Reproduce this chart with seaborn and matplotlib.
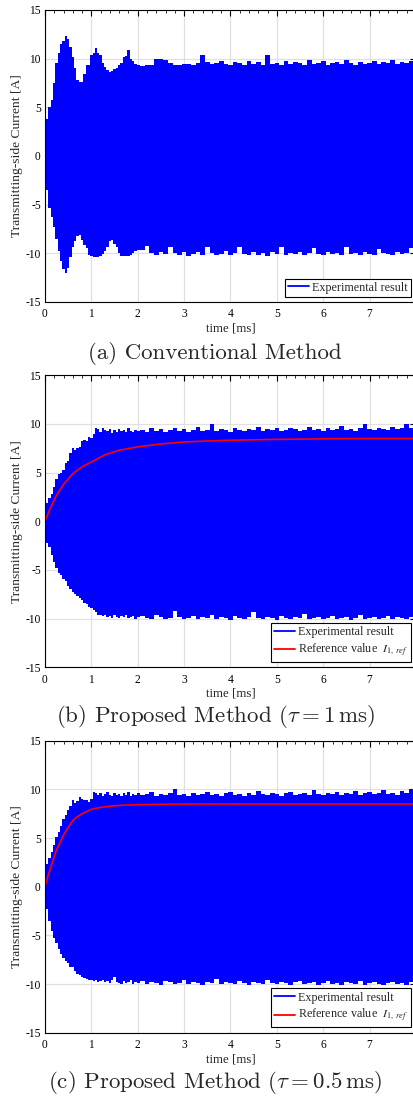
import numpy as np
import matplotlib
matplotlib.use("Agg")
import matplotlib.pyplot as plt
import seaborn as sns
from matplotlib.lines import Line2D
from matplotlib.font_manager import FontProperties

# sample times of the read envelopes [ms]
t_env = np.round(np.r_[np.arange(0, 2.0001, 0.05), np.arange(2.1, 8.0001, 0.1)], 2)

# (a) conventional method, envelope of the measured current [A]
a_upper = [0.0, 3.8, 5.0, 5.8, 7.5, 9.6, 10.6, 11.5, 11.8, 12.3, 12.0, 11.2, 10.2, 9.0, 7.8, 7.6, 7.6, 8.4,
           9.3, 9.4, 10.4, 10.6, 11.1, 10.6, 10.4, 9.6, 9.1, 8.8, 8.6, 8.7, 8.9, 9.0, 9.4, 9.6, 10.2, 10.3,
           10.9, 10.0, 9.8, 9.5, 9.3,
           9.2, 9.3, 9.4, 10.0, 10.0, 9.9, 9.6, 9.3, 9.3, 9.5, 9.5, 9.3, 9.6, 10.4, 9.7, 9.5, 9.6, 9.8, 9.5, 9.4,
           9.7, 9.6, 9.4, 9.8, 9.5, 9.7, 9.4, 10.4, 9.5, 9.6, 9.4, 9.8, 9.5, 9.7, 9.6, 9.4, 9.9, 9.5, 9.6, 9.8,
           9.4, 9.6, 9.7, 9.5, 9.9, 9.6, 9.4, 9.7, 9.5, 9.6, 9.8, 9.5, 9.7, 9.6, 9.9, 9.5, 9.7, 9.6, 9.8, 9.7]
a_lower = [0.0, -3.5, -5.3, -6.3, -7.3, -8.5, -9.8, -10.8, -11.6, -12.0, -11.5, -10.4, -9.4, -8.7, -8.2, -8.1,
           -8.6, -9.1, -9.5, -10.2, -10.3, -10.4, -10.4, -10.4, -10.3, -10.1, -9.8, -9.3, -8.7, -8.6, -9.0,
           -9.4, -10.0, -10.3, -10.3, -10.3, -10.3, -10.2, -10.0, -9.8, -9.7,
           -9.7, -9.2, -10.0, -10.2, -9.9, -10.1, -9.3, -10.0, -10.2, -9.9, -10.3, -10.1, -9.9, -10.2, -9.4,
           -10.0, -10.2, -10.1, -9.8, -10.2, -10.0, -9.3, -10.1, -10.2, -9.9, -10.2, -10.0, -10.3, -9.9, -10.1,
           -9.4, -10.2, -10.0, -10.1, -9.9, -10.2, -10.0, -9.5, -10.1, -10.2, -9.9, -10.1, -10.0, -10.2, -9.3,
           -10.1, -10.0, -10.2, -9.9, -10.1, -10.2, -9.6, -10.0, -10.1, -10.2, -9.9, -10.1, -10.0, -9.5, -10.1]

# (b) proposed method, tau = 1 ms
b_upper = [0.0, 1.9, 2.4, 2.8, 3.5, 4.3, 4.9, 5.0, 5.3, 6.0, 6.2, 7.0, 7.5, 7.3, 7.5, 7.6, 8.3, 8.4, 8.2,
           8.7, 8.6, 9.0, 9.6, 9.5, 9.2, 9.6, 9.4, 9.3, 9.5, 9.1, 9.4, 9.2, 9.5, 9.3, 9.4, 9.2, 9.6, 9.3, 9.2,
           9.4, 9.3,
           9.4, 9.2, 9.6, 9.3, 9.5, 9.2, 9.4, 9.6, 9.3, 9.5, 9.2, 9.4, 9.7, 9.3, 9.4, 10.0, 9.3, 9.5, 9.4, 9.2,
           9.6, 9.4, 9.3, 9.5, 9.4, 9.7, 9.3, 9.5, 9.4, 9.6, 9.3, 9.4, 9.6, 9.5, 9.3, 9.4, 9.7, 9.4, 9.5, 9.3,
           9.6, 9.4, 9.5, 9.8, 9.4, 9.5, 9.3, 9.6, 10.0, 9.5, 9.4, 9.6, 9.5, 9.4, 9.7, 9.5, 9.6, 10.0, 9.6, 9.5]
b_lower = [0.0, -2.2, -2.6, -3.5, -4.2, -4.8, -5.3, -5.5, -5.9, -6.1, -6.6, -7.0, -7.3, -7.5, -7.7, -7.9,
           -8.1, -8.4, -8.5, -8.8, -8.95, -9.1, -9.3, -9.6, -9.6, -9.7, -9.6, -9.8, -9.7, -9.9, -9.6, -9.8,
           -9.9, -9.7, -9.8, -9.6, -9.9, -9.8, -9.7, -10.0, -9.8,
           -9.7, -9.9, -10.0, -9.6, -9.8, -10.0, -9.9, -9.2, -9.8, -10.0, -9.9, -9.7, -10.0, -9.8, -9.9, -9.6,
           -10.0, -9.8, -9.9, -10.1, -9.7, -9.9, -10.0, -9.8, -9.3, -9.9, -10.0, -9.8, -9.9, -10.1, -9.7, -9.9,
           -10.0, -9.8, -9.9, -9.5, -10.0, -9.9, -9.8, -10.0, -9.9, -9.7, -10.0, -9.9, -9.8, -10.1, -9.9, -9.6,
           -10.0, -9.9, -9.8, -10.0, -9.9, -9.7, -10.0, -9.8, -9.9, -10.0, -9.8, -9.9]

# (c) proposed method, tau = 0.5 ms
c_upper = [0.0, 2.3, 3.0, 3.6, 4.3, 5.1, 5.6, 6.2, 7.0, 7.4, 7.9, 8.3, 8.9, 8.6, 8.8, 9.2, 9.0, 8.9, 8.9,
           8.7, 9.0, 9.7, 9.6, 9.4, 9.6, 9.3, 9.5, 9.7, 9.4, 9.3, 9.6, 9.4, 9.5, 9.3, 9.6, 9.4, 9.7, 9.3, 9.5,
           9.4, 9.6,
           9.4, 9.5, 9.7, 9.3, 9.5, 9.4, 9.6, 10.0, 9.4, 9.5, 9.3, 9.6, 9.4, 9.5, 9.7, 9.4, 9.5, 9.3, 9.6, 9.7,
           9.4, 9.5, 9.3, 9.6, 9.4, 9.8, 9.5, 9.4, 9.6, 9.5, 9.3, 9.6, 9.7, 9.4, 9.5, 9.6, 9.4, 9.9, 9.5, 9.4,
           9.6, 9.5, 9.7, 9.4, 9.6, 9.5, 9.8, 9.4, 9.6, 9.7, 9.5, 9.6, 9.9, 9.5, 9.6, 9.4, 9.8, 9.6, 10.0, 9.7]
c_lower = [0.0, -2.3, -3.5, -4.5, -5.3, -5.8, -6.4, -6.9, -7.3, -7.6, -7.8, -8.2, -8.3, -8.7, -9.0, -9.1,
           -9.3, -9.4, -9.5, -9.6, -9.6, -9.7, -9.6, -9.8, -9.7, -9.6, -9.8, -9.7, -9.9, -9.6, -9.3, -9.8,
           -9.9, -10.0, -9.7, -9.9, -9.8, -9.6, -10.0, -9.8, -9.9,
           -9.7, -10.0, -9.8, -9.9, -10.1, -9.7, -9.8, -10.0, -9.9, -9.6, -10.0, -9.8, -9.9, -10.1, -9.8, -9.9,
           -9.5, -10.0, -9.8, -9.9, -10.0, -9.7, -9.9, -10.1, -9.8, -9.9, -10.0, -9.6, -9.9, -10.0, -9.8, -9.9,
           -10.1, -9.8, -9.7, -10.0, -9.9, -9.8, -10.1, -9.9, -9.7, -10.0, -9.9, -10.1, -9.8, -9.9, -10.0, -9.7,
           -10.1, -9.9, -9.8, -10.0, -10.1, -9.9, -9.8, -10.0, -9.9, -10.1, -9.8, -10.0]

# reference current I_1,ref [A]
b_ref_t = [0, 0.1, 0.25, 0.4, 0.6, 0.8, 1.0, 1.3, 1.6, 2.0, 2.5, 3.0, 3.5, 4.0, 5.0, 6.0, 7.0, 8.0]
b_ref_v = [0, 1.2, 2.7, 3.8, 4.9, 5.6, 6.1, 6.85, 7.3, 7.65, 7.95, 8.15, 8.25, 8.33, 8.42, 8.47, 8.5, 8.5]
c_ref_t = [0, 0.05, 0.1, 0.15, 0.2, 0.25, 0.3, 0.4, 0.5, 0.6, 0.7, 0.8, 1.0, 1.2, 1.4, 1.6, 2.0, 2.5, 3.0,
           4.0, 5.0, 6.0, 7.0, 8.0]
c_ref_v = [0, 0.9, 1.6, 2.4, 3.1, 3.8, 4.3, 5.3, 6.1, 6.8, 7.2, 7.5, 7.95, 8.15, 8.27, 8.35, 8.43, 8.47, 8.49,
           8.5, 8.5, 8.5, 8.5, 8.5]

captions = [r"(a) Conventional Method",
            r"(b) Proposed Method ($\tau = 1\,\mathrm{ms}$)",
            r"(c) Proposed Method ($\tau = 0.5\,\mathrm{ms}$)"]

sns.set_style("white")
plt.rcParams["font.family"] = ["Liberation Serif", "DejaVu Serif"]
plt.rcParams["axes.unicode_minus"] = False

fig = plt.figure(figsize=(4.14, 10.97), dpi=100)
W, H = 414, 1097
left, right = 45, 416
panels = [
    (10, 302, a_upper, a_lower, None, None, 353),
    (375.3, 667.3, b_upper, b_lower, b_ref_t, b_ref_v, 717),
    (740.7, 1032.7, c_upper, c_lower, c_ref_t, c_ref_v, 1083),
]

for i, (top, bot, up, lo, rt, rv, cap_y) in enumerate(panels):
    ax = fig.add_axes([left / W, 1 - bot / H, (right - left) / W, (bot - top) / H])
    ax.set_axisbelow(True)
    ax.fill_between(t_env, lo, up, step="mid", color="#0000ff", lw=0)
    handles = [Line2D([], [], color="#0000ff", lw=1.3)]
    labels = ["Experimental result"]
    if rt is not None:
        sns.lineplot(x=rt, y=rv, ax=ax, color="#ff0000", lw=1.2)
        handles.append(Line2D([], [], color="#ff0000", lw=1.3))
        labels.append(r"Reference value  $I_{1,\,ref}$")
    ax.set_xlim(0, 8)
    ax.set_ylim(-15, 15)
    ax.set_xticks(range(0, 9))
    ax.set_yticks(range(-15, 16, 5))
    ax.set_xticks(np.arange(0, 8.01, 0.2), minor=True)
    ax.set_yticks(range(-15, 16), minor=True)
    ax.grid(True, which="major", color="#e0e0e0", lw=0.9)
    ax.tick_params(which="both", direction="in", top=True, right=True, labelsize=8.3, colors="black")
    ax.tick_params(axis="x", pad=4.5)
    ax.tick_params(axis="y", pad=3)
    ax.tick_params(which="major", length=4, width=0.8)
    ax.tick_params(which="minor", length=2, width=0.6)
    for s in ax.spines.values():
        s.set_color("black")
        s.set_linewidth(0.8)
    ax.set_xlabel("time [ms]", fontsize=9.3, labelpad=1.5)
    ax.set_ylabel("Transmitting-side Current [A]", fontsize=9.7, labelpad=2)
    leg = ax.legend(handles, labels, loc="lower right", fancybox=False, framealpha=1, edgecolor="black",
                    prop=FontProperties(family="Liberation Serif", size=8.7, math_fontfamily="stix"),
                    handlelength=1.8, handletextpad=0.2, borderpad=0.25, labelspacing=0.3,
                    borderaxespad=0.45)
    leg.get_frame().set_linewidth(0.8)
    fig.text(0.52, 1 - cap_y / H, captions[i],
             ha="center", va="center", fontsize=16.5, family="cmr10", math_fontfamily="cm")

fig.savefig("out.png", dpi=100)
